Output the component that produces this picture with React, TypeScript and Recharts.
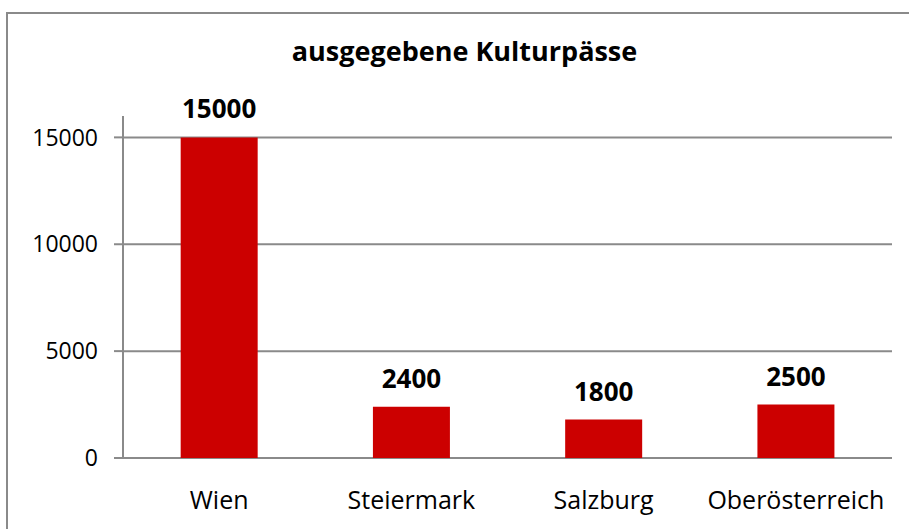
import { BarChart, Bar, XAxis, YAxis, CartesianGrid, LabelList } from "recharts";

const regions = ["Wien", "Steiermark", "Salzburg", "Oberösterreich"];
const passes = [15000, 2400, 1800, 2500];
const yTicks = [0, 5000, 10000, 15000];
const bandEdges = [0, 1, 2, 3, 4];

const data = regions.map((name, i) => ({ name, value: passes[i] }));

const FONT = "'Open Sans', sans-serif";
const LINE = "#8a8a8a";

export default function App() {
  return (
    <div
      style={{
        position: "absolute",
        left: 0,
        top: 0,
        width: 909,
        height: 529,
        overflow: "hidden",
        background: "#fff",
        fontFamily: FONT,
      }}
    >
      {/* outer chart frame, runs off the right and bottom like the original */}
      <div
        style={{
          position: "absolute",
          left: 6,
          top: 12,
          width: 1000,
          height: 600,
          border: `2px solid ${LINE}`,
        }}
      />
      <div
        style={{
          position: "absolute",
          top: 32,
          left: 10,
          width: 909,
          textAlign: "center",
          fontSize: 27,
          fontWeight: 700,
          color: "#000",
        }}
      >
        ausgegebene Kulturpässe
      </div>
      <div style={{ position: "absolute", left: 0, top: 0 }}>
        <BarChart
          width={909}
          height={529}
          data={data}
          margin={{ top: 116, right: 17, bottom: 0, left: 0 }}
          barCategoryGap="30%"
        >
          <CartesianGrid
            vertical={false}
            horizontalValues={yTicks}
            stroke={LINE}
            strokeWidth={2}
          />
          <XAxis
            xAxisId="edges"
            type="number"
            domain={[0, 4]}
            ticks={bandEdges}
            height={0}
            tick={false}
            tickSize={9}
            axisLine={{ stroke: LINE, strokeWidth: 2 }}
            tickLine={{ stroke: LINE, strokeWidth: 2 }}
            allowDataOverflow
          />
          <XAxis
            dataKey="name"
            height={71}
            axisLine={false}
            tickLine={false}
            tickMargin={27}
            tick={{ fill: "#000", fontSize: 25, fontFamily: FONT }}
            interval={0}
          />
          <YAxis
            domain={[0, 16000]}
            ticks={yTicks}
            width={123}
            tickSize={9}
            tickMargin={16}
            axisLine={{ stroke: LINE, strokeWidth: 2 }}
            tickLine={{ stroke: LINE, strokeWidth: 2 }}
            tick={{ fill: "#000", fontSize: 23, fontFamily: FONT }}
          />
          <Bar dataKey="value" fill="#cc0000" isAnimationActive={false}>
            <LabelList
              dataKey="value"
              position="top"
              offset={19}
              style={{ fill: "#000", fontSize: 26, fontWeight: 700, fontFamily: FONT }}
            />
          </Bar>
        </BarChart>
      </div>
    </div>
  );
}
